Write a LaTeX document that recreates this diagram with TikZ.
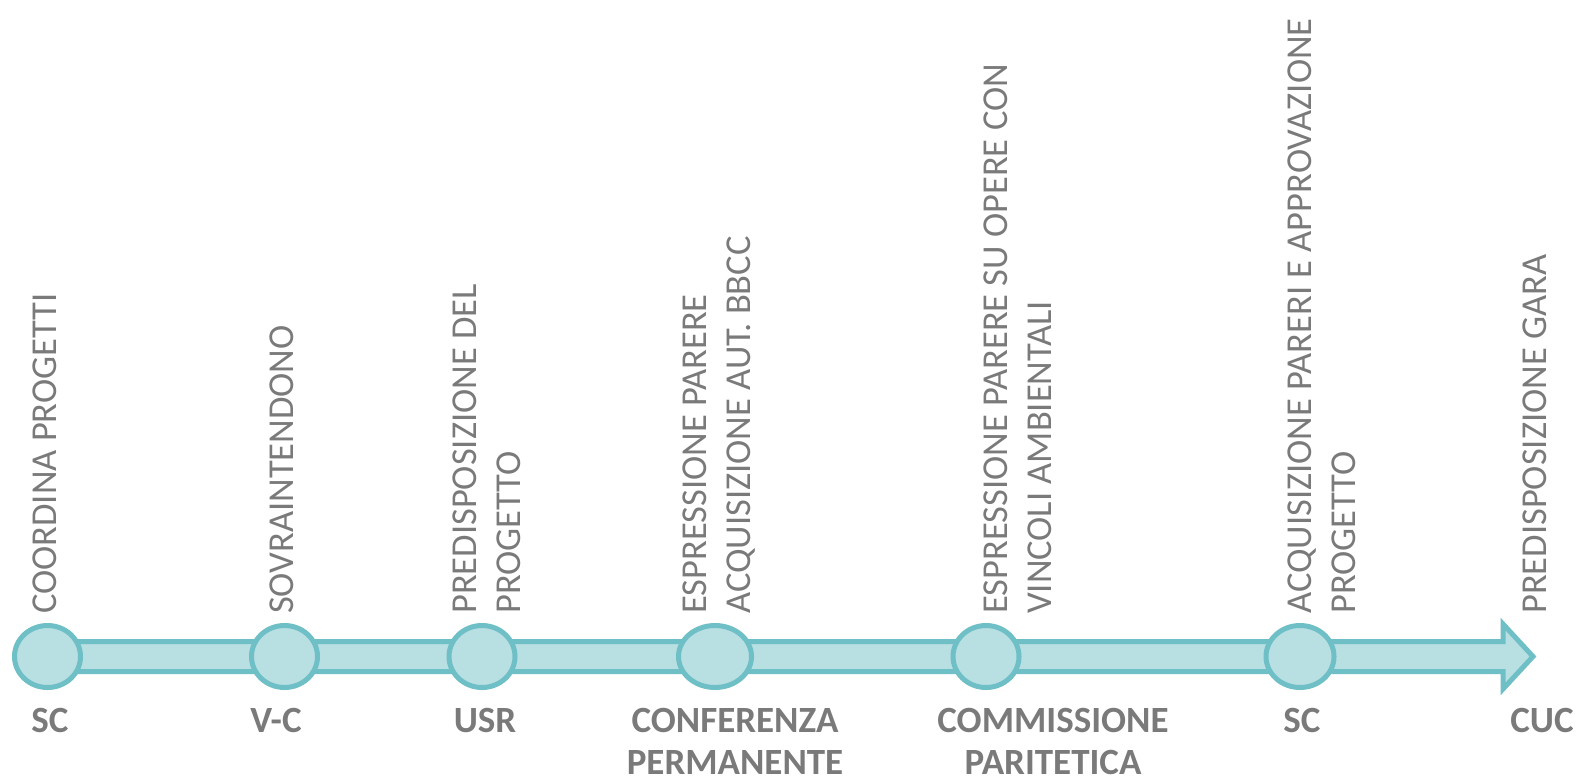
\documentclass[tikz,border=0pt]{standalone}
\usepackage{fontspec}
\setmainfont{Carlito}
\usetikzlibrary{shapes.geometric}
\definecolor{tealfill}{HTML}{B8DFE2}
\definecolor{tealline}{HTML}{6FBFC6}
\definecolor{labelgray}{HTML}{7A7A7A}

\begin{document}
\begin{tikzpicture}[x=1pt,y=-1pt,
  stage/.style={ellipse,draw=tealline,fill=tealfill,line width=5pt,minimum width=66pt,minimum height=62pt,inner sep=0pt},
  task/.style={rotate=90,anchor=north west,align=left,inner sep=0pt,text=labelgray,font=\fontsize{36.5}{44}\selectfont},
  actor/.style={anchor=north,align=center,inner sep=0pt,text=labelgray,font=\bfseries\fontsize{37}{42}\selectfont}]
\useasboundingbox (0,0) rectangle (1578,779);
% freccia
\draw[tealline,fill=tealfill,line width=5pt,line join=miter] (20,641.5) -- (1503,641.5) -- (1503,624) -- (1533,656.5) -- (1503,689) -- (1503,671.5) -- (20,671.5) -- cycle;
% tappe
\node[stage] (sc1) at (47.5,656.5) {};
\node[stage] (vc) at (284.5,656.5) {};
\node[stage] (usr) at (482,656.5) {};
\node[stage,minimum width=73pt] (conf) at (715,656.5) {};
\node[stage] (comm) at (986,656.5) {};
\node[stage,minimum width=68pt] (sc2) at (1300,656.5) {};
% attivita
\node[task] (t1) at (33,614) {COORDINA PROGETTI};
\node[task] (t2) at (270,614) {SOVRAINTENDONO};
\node[task] (t3) at (453,614) {PREDISPOSIZIONE DEL\\PROGETTO};
\node[task] (t4) at (683,614) {ESPRESSIONE PARERE\\ACQUISIZIONE AUT. BBCC};
\node[task] (t5) at (984,614) {ESPRESSIONE PARERE SU OPERE CON\\VINCOLI AMBIENTALI};
\node[task] (t6) at (1288,614) {ACQUISIZIONE PARERI E APPROVAZIONE\\PROGETTO};
\node[task] (t7) at (1523,614) {PREDISPOSIZIONE GARA};
% soggetti
\node[actor] (a1) at (50,708) {SC};
\node[actor] (a2) at (276,708) {V-C};
\node[actor] (a3) at (485,708) {USR};
\node[actor] (a4) at (735,708) {CONFERENZA\\PERMANENTE};
\node[actor] (a5) at (1053,708) {COMMISSIONE\\PARITETICA};
\node[actor] (a6) at (1302,708) {SC};
\node[actor] (a7) at (1542,708) {CUC};
\end{tikzpicture}
\end{document}
